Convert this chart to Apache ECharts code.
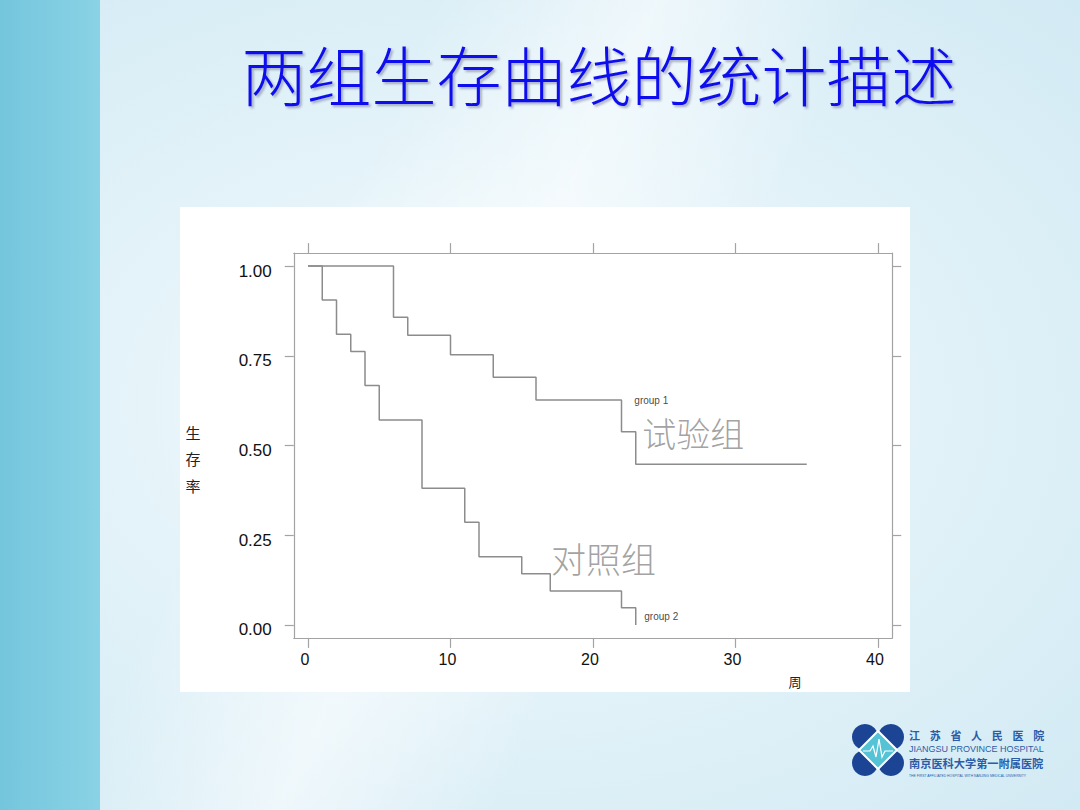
<!DOCTYPE html>
<html>
<head>
<meta charset="utf-8">
<script src="https://cdn.jsdelivr.net/npm/echarts@6/dist/echarts.min.js"></script>
<style>
html,body{margin:0;padding:0;width:1080px;height:810px;overflow:hidden;}
body{
  background:
    linear-gradient(90deg,#74c6dd 0px,#8ad2e5 100px,rgba(0,0,0,0) 100px),
    linear-gradient(115deg,rgba(255,255,255,0) 30%,rgba(255,255,255,0.55) 45%,rgba(255,255,255,0) 60%),
    radial-gradient(ellipse at 45% 50%,#f7fcfe 0%,#e4f3f9 45%,#d2eaf4 100%);
}
#chart{width:1080px;height:810px;}
</style>
</head>
<body>
<div id="chart"></div>
<script>
// ---- data ----
const titleText = '两组生存曲线的统计描述';
const xTicks = [0, 10, 20, 30, 40];
const yTicks = [0, 0.25, 0.5, 0.75, 1];
const yTickLabels = ['0.00', '0.25', '0.50', '0.75', '1.00'];
const yAxisTitle = '生\n存\n率';
const xAxisTitle = '周';

// group 1 (试验组) Kaplan-Meier steps
const group1Time = [0, 6, 7, 10, 13, 16, 22, 23, 35];
const group1Surv = [1, 0.857, 0.807, 0.753, 0.690, 0.627, 0.538, 0.448, 0.448];
// group 2 (对照组)
const group2Time = [0, 1, 2, 3, 4, 5, 8, 11, 12, 15, 17, 22, 23];
const group2Surv = [1, 0.905, 0.810, 0.762, 0.667, 0.571, 0.381, 0.286, 0.190, 0.143, 0.095, 0.048, 0];

// annotations (data-space anchor = left-middle of the text)
const annotText = ['group 1', '试验组', '对照组', 'group 2'];
const annotX = [22.9, 23.45, 17.05, 23.6];
const annotY = [0.625, 0.535, 0.187, 0.023];

// logo texts
const logoNameChars = ['江', '苏', '省', '人', '民', '医', '院'];
const logoEn = 'JIANGSU PROVINCE HOSPITAL';
const logoUniv = '南京医科大学第一附属医院';
const logoTiny = 'THE FIRST AFFILIATED HOSPITAL WITH NANJING MEDICAL UNIVERSITY';

// ---- chart ----
const chart = echarts.init(document.getElementById('chart'), null, {renderer: 'svg'});
const zip = (a, b) => a.map((v, i) => [v, b[i]]);
const lineColor = '#8c8c8c';
const frameColor = '#a3a3a3';
const labelFont = 'Liberation Sans, Arial, sans-serif';
const cjkFont = '"Noto Sans CJK SC", sans-serif';

const annotStyles = [
  {fontSize: 10, lineHeight: 11, color: '#111', fontFamily: labelFont},
  {fontSize: 34, lineHeight: 30, color: '#8a8a8a', fontFamily: cjkFont, fontWeight: 300},
  {fontSize: 35, lineHeight: 30, color: '#8a8a8a', fontFamily: cjkFont, fontWeight: 300},
  {fontSize: 10, lineHeight: 11, color: '#111', fontFamily: labelFont}
];

function xAxisCfg(pos, showLabel) {
  return {
    type: 'value', position: pos, min: -1, max: 41,
    axisLine: {show: true, onZero: false, lineStyle: {color: frameColor, width: 1.2}},
    axisTick: {show: true, inside: false, length: 10, customValues: xTicks, lineStyle: {color: frameColor, width: 1.2}},
    axisLabel: {show: showLabel, customValues: xTicks, margin: 14, fontSize: 16, color: '#111', fontFamily: labelFont, padding: [0, 6, 0, 0]},
    splitLine: {show: false},
    name: showLabel ? xAxisTitle : '',
    nameLocation: 'middle', nameGap: 37,
    nameTextStyle: {fontSize: 13, color: '#222', fontFamily: cjkFont, padding: [0, 0, 0, 404]}
  };
}
function yAxisCfg(pos, showLabel) {
  return {
    type: 'value', position: pos, min: -0.036, max: 1.036,
    axisLine: {show: true, onZero: false, lineStyle: {color: frameColor, width: 1.2}},
    axisTick: {show: true, inside: false, length: 9, customValues: yTicks, lineStyle: {color: frameColor, width: 1.2}},
    axisLabel: {
      show: showLabel, customValues: yTicks, margin: 22, fontSize: 17, color: '#111', fontFamily: labelFont,
      verticalAlign: 'top', lineHeight: 10,
      formatter: v => { const i = yTicks.findIndex(t => Math.abs(t - v) < 1e-6); return i >= 0 ? yTickLabels[i] : ''; }
    },
    splitLine: {show: false}
  };
}

// logo
const logoBlue = '#1b4594';
const logoTextColor = '#2a5ca8';
const logoGraphics = [
  {type: 'circle', shape: {cx: 865, cy: 737, r: 13}, style: {fill: logoBlue}, z: 10},
  {type: 'circle', shape: {cx: 891, cy: 737, r: 13}, style: {fill: logoBlue}, z: 10},
  {type: 'circle', shape: {cx: 865, cy: 763, r: 13}, style: {fill: logoBlue}, z: 10},
  {type: 'circle', shape: {cx: 891, cy: 763, r: 13}, style: {fill: logoBlue}, z: 10},
  {type: 'polygon', shape: {points: [[878, 731], [897, 750], [878, 769], [859, 750]]}, style: {fill: '#55c3d6', stroke: '#ffffff', lineWidth: 2}, z: 11},
  {type: 'polyline', shape: {points: [[863, 751], [870, 751], [873, 746], [876, 757], [879, 739], [882, 757], [885, 751], [893, 751]]}, style: {stroke: '#ffffff', lineWidth: 1.2, fill: null}, z: 12},
  {type: 'text', style: {text: logoEn, x: 909, y: 749, fontSize: 9, fill: logoTextColor, fontFamily: labelFont, verticalAlign: 'middle'}, z: 10},
  {type: 'text', style: {text: logoUniv, x: 909, y: 763, fontSize: 11.2, fontWeight: 'bold', fill: logoTextColor, fontFamily: cjkFont, verticalAlign: 'middle'}, z: 10},
  {type: 'text', style: {text: logoTiny, x: 909, y: 776, fontSize: 3.4, fill: logoTextColor, fontFamily: labelFont, verticalAlign: 'middle'}, z: 10}
].concat(logoNameChars.map((c, i) => ({
  type: 'text', style: {text: c, x: 909 + i * 20.7, y: 735, fontSize: 11, fontWeight: 'bold', fill: logoTextColor, fontFamily: cjkFont, verticalAlign: 'middle'}, z: 10
})));

const option = {
  animation: false,
  backgroundColor: 'transparent',
  graphic: [
    {type: 'rect', shape: {x: 180, y: 207, width: 730, height: 485}, style: {fill: '#ffffff'}, z: -10, silent: true},
    {type: 'text', style: {text: titleText, x: 599, y: 73, fontSize: 65, fill: '#1010ee', fontFamily: cjkFont, fontWeight: 300,
      align: 'center', verticalAlign: 'middle', textShadowColor: 'rgba(40,40,90,0.35)', textShadowOffsetX: 2, textShadowOffsetY: 2, textShadowBlur: 2}, z: 10},
    {type: 'text', style: {text: yAxisTitle, x: 193, y: 458.5, fontSize: 15, lineHeight: 26.5, fill: '#222', fontFamily: cjkFont,
      align: 'center', verticalAlign: 'middle'}, z: 10}
  ].concat(logoGraphics),
  grid: {left: 293.75, top: 253.1, width: 598.5, height: 384.8},
  xAxis: [xAxisCfg('bottom', true), xAxisCfg('top', false)],
  yAxis: [yAxisCfg('left', true), yAxisCfg('right', false)],
  series: [
    {type: 'line', name: 'group 1', step: 'end', data: zip(group1Time, group1Surv), showSymbol: false, symbol: 'none',
      lineStyle: {color: lineColor, width: 1.5}, silent: true},
    {type: 'line', name: 'group 2', step: 'end', data: zip(group2Time, group2Surv), showSymbol: false, symbol: 'none',
      lineStyle: {color: lineColor, width: 1.5}, silent: true},
    {type: 'scatter', symbolSize: 0, silent: true,
      data: annotText.map((t, i) => ({
        value: [annotX[i], annotY[i]],
        label: Object.assign({show: true, position: 'right', distance: 0, formatter: t}, annotStyles[i])
      }))}
  ]
};
chart.setOption(option);
</script>
</body>
</html>
